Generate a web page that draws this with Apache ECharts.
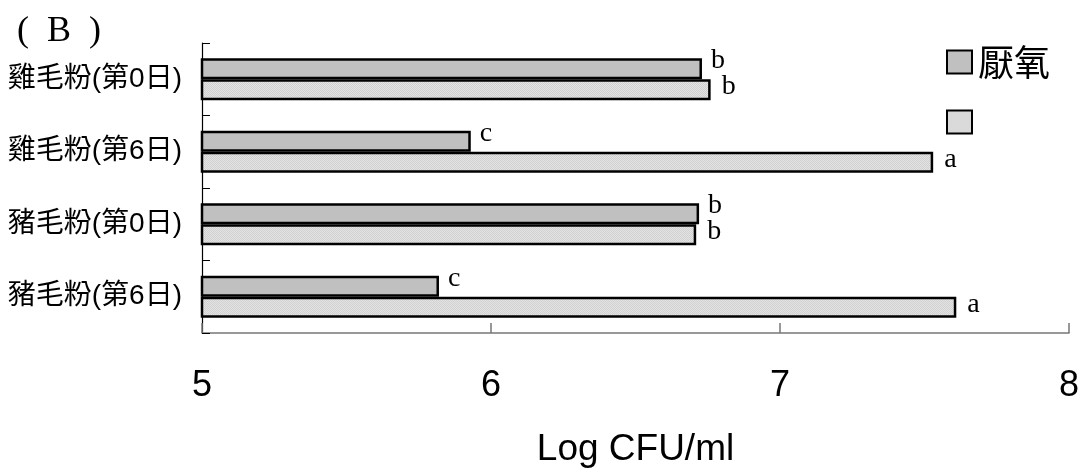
<!DOCTYPE html>
<html>
<head>
<meta charset="utf-8">
<script src="https://cdn.jsdelivr.net/npm/echarts@6/dist/echarts.min.js"></script>
<style>
  html, body { margin: 0; padding: 0; background: #fff; }
  #chart { width: 1083px; height: 473px; }
</style>
</head>
<body>
<div id="chart"></div>
<script>
// Feather meal samples, log counts per treatment
const categories = ['雞毛粉(第0日)', '雞毛粉(第6日)', '豬毛粉(第0日)', '豬毛粉(第6日)'];
const anaerobicValues = [6.73, 5.93, 6.72, 5.82];
const otherValues = [6.76, 7.53, 6.71, 7.61];
const anaerobicLetters = ['b', 'c', 'b', 'c'];
const otherLetters = ['b', 'a', 'b', 'a'];
const xTicks = [5, 6, 7, 8];

// fine stippled fill for the second series
function stipple() {
  const c = document.createElement('canvas');
  c.width = 2; c.height = 2;
  const g = c.getContext('2d');
  g.fillStyle = '#e4e4e4'; g.fillRect(0, 0, 2, 2);
  g.fillStyle = '#d0d0d0'; g.fillRect(0, 0, 1, 1); g.fillRect(1, 1, 1, 1);
  return c;
}

const chart = echarts.init(document.getElementById('chart'), null, { renderer: 'canvas' });

const letterStyle = {
  show: true,
  position: 'right',
  fontFamily: 'Liberation Serif, serif',
  fontSize: 28,
  color: '#000'
};

chart.setOption({
  animation: false,
  backgroundColor: '#fff',
  title: {
    text: '(\u2002B\u2002)',
    left: 12,
    top: 9,
    textStyle: { fontFamily: 'Liberation Serif, serif', fontSize: 36, fontWeight: 'normal', color: '#000' }
  },
  legend: {
    orient: 'vertical',
    left: 941,
    top: 39,
    itemWidth: 25,
    itemHeight: 23,
    itemGap: 24,
    icon: 'rect',
    data: ['厭氧', ' '],
    textStyle: { fontFamily: 'Noto Sans CJK TC, sans-serif', fontSize: 36, color: '#000', padding: [0, 0, 0, 1] }
  },
  grid: { left: 202, right: 14, top: 43, bottom: 140 },
  xAxis: {
    type: 'value',
    min: xTicks[0],
    max: xTicks[xTicks.length - 1],
    interval: 1,
    splitLine: { show: false },
    axisLine: { show: true, lineStyle: { color: '#777', width: 1.5 } },
    axisTick: { show: true, inside: true, length: 10, lineStyle: { color: '#777', width: 1.5 } },
    axisLabel: { fontFamily: 'Liberation Sans, Arial, sans-serif', fontSize: 36, color: '#000', margin: 35 },
    name: 'Log CFU/ml',
    nameLocation: 'middle',
    nameGap: 98,
    nameTextStyle: { fontFamily: 'Liberation Sans, Arial, sans-serif', fontSize: 37, color: '#000' }
  },
  yAxis: {
    type: 'category',
    inverse: true,
    data: categories,
    axisLine: { show: true, lineStyle: { color: '#000', width: 1.2 } },
    axisTick: { show: true, inside: true, length: 8, lineStyle: { color: '#000' } },
    axisLabel: { fontFamily: 'Liberation Sans, Noto Sans CJK TC, sans-serif', fontSize: 28, color: '#000', margin: 20 }
  },
  series: [
    {
      name: '厭氧',
      type: 'bar',
      data: anaerobicValues,
      barWidth: 21,
      barGap: '0%',
      itemStyle: { color: '#c0c0c0', borderColor: '#000', borderWidth: 2.5 },
      label: Object.assign({}, letterStyle, {
        distance: 9,
        offset: [0, -8],
        formatter: p => anaerobicLetters[p.dataIndex]
      })
    },
    {
      name: ' ',
      type: 'bar',
      data: otherValues,
      barWidth: 21,
      barGap: '0%',
      itemStyle: { color: { image: stipple(), repeat: 'repeat' }, borderColor: '#000', borderWidth: 2.5 },
      label: Object.assign({}, letterStyle, {
        distance: 11,
        offset: [0, -3],
        formatter: p => otherLetters[p.dataIndex]
      })
    }
  ]
});
</script>
</body>
</html>
